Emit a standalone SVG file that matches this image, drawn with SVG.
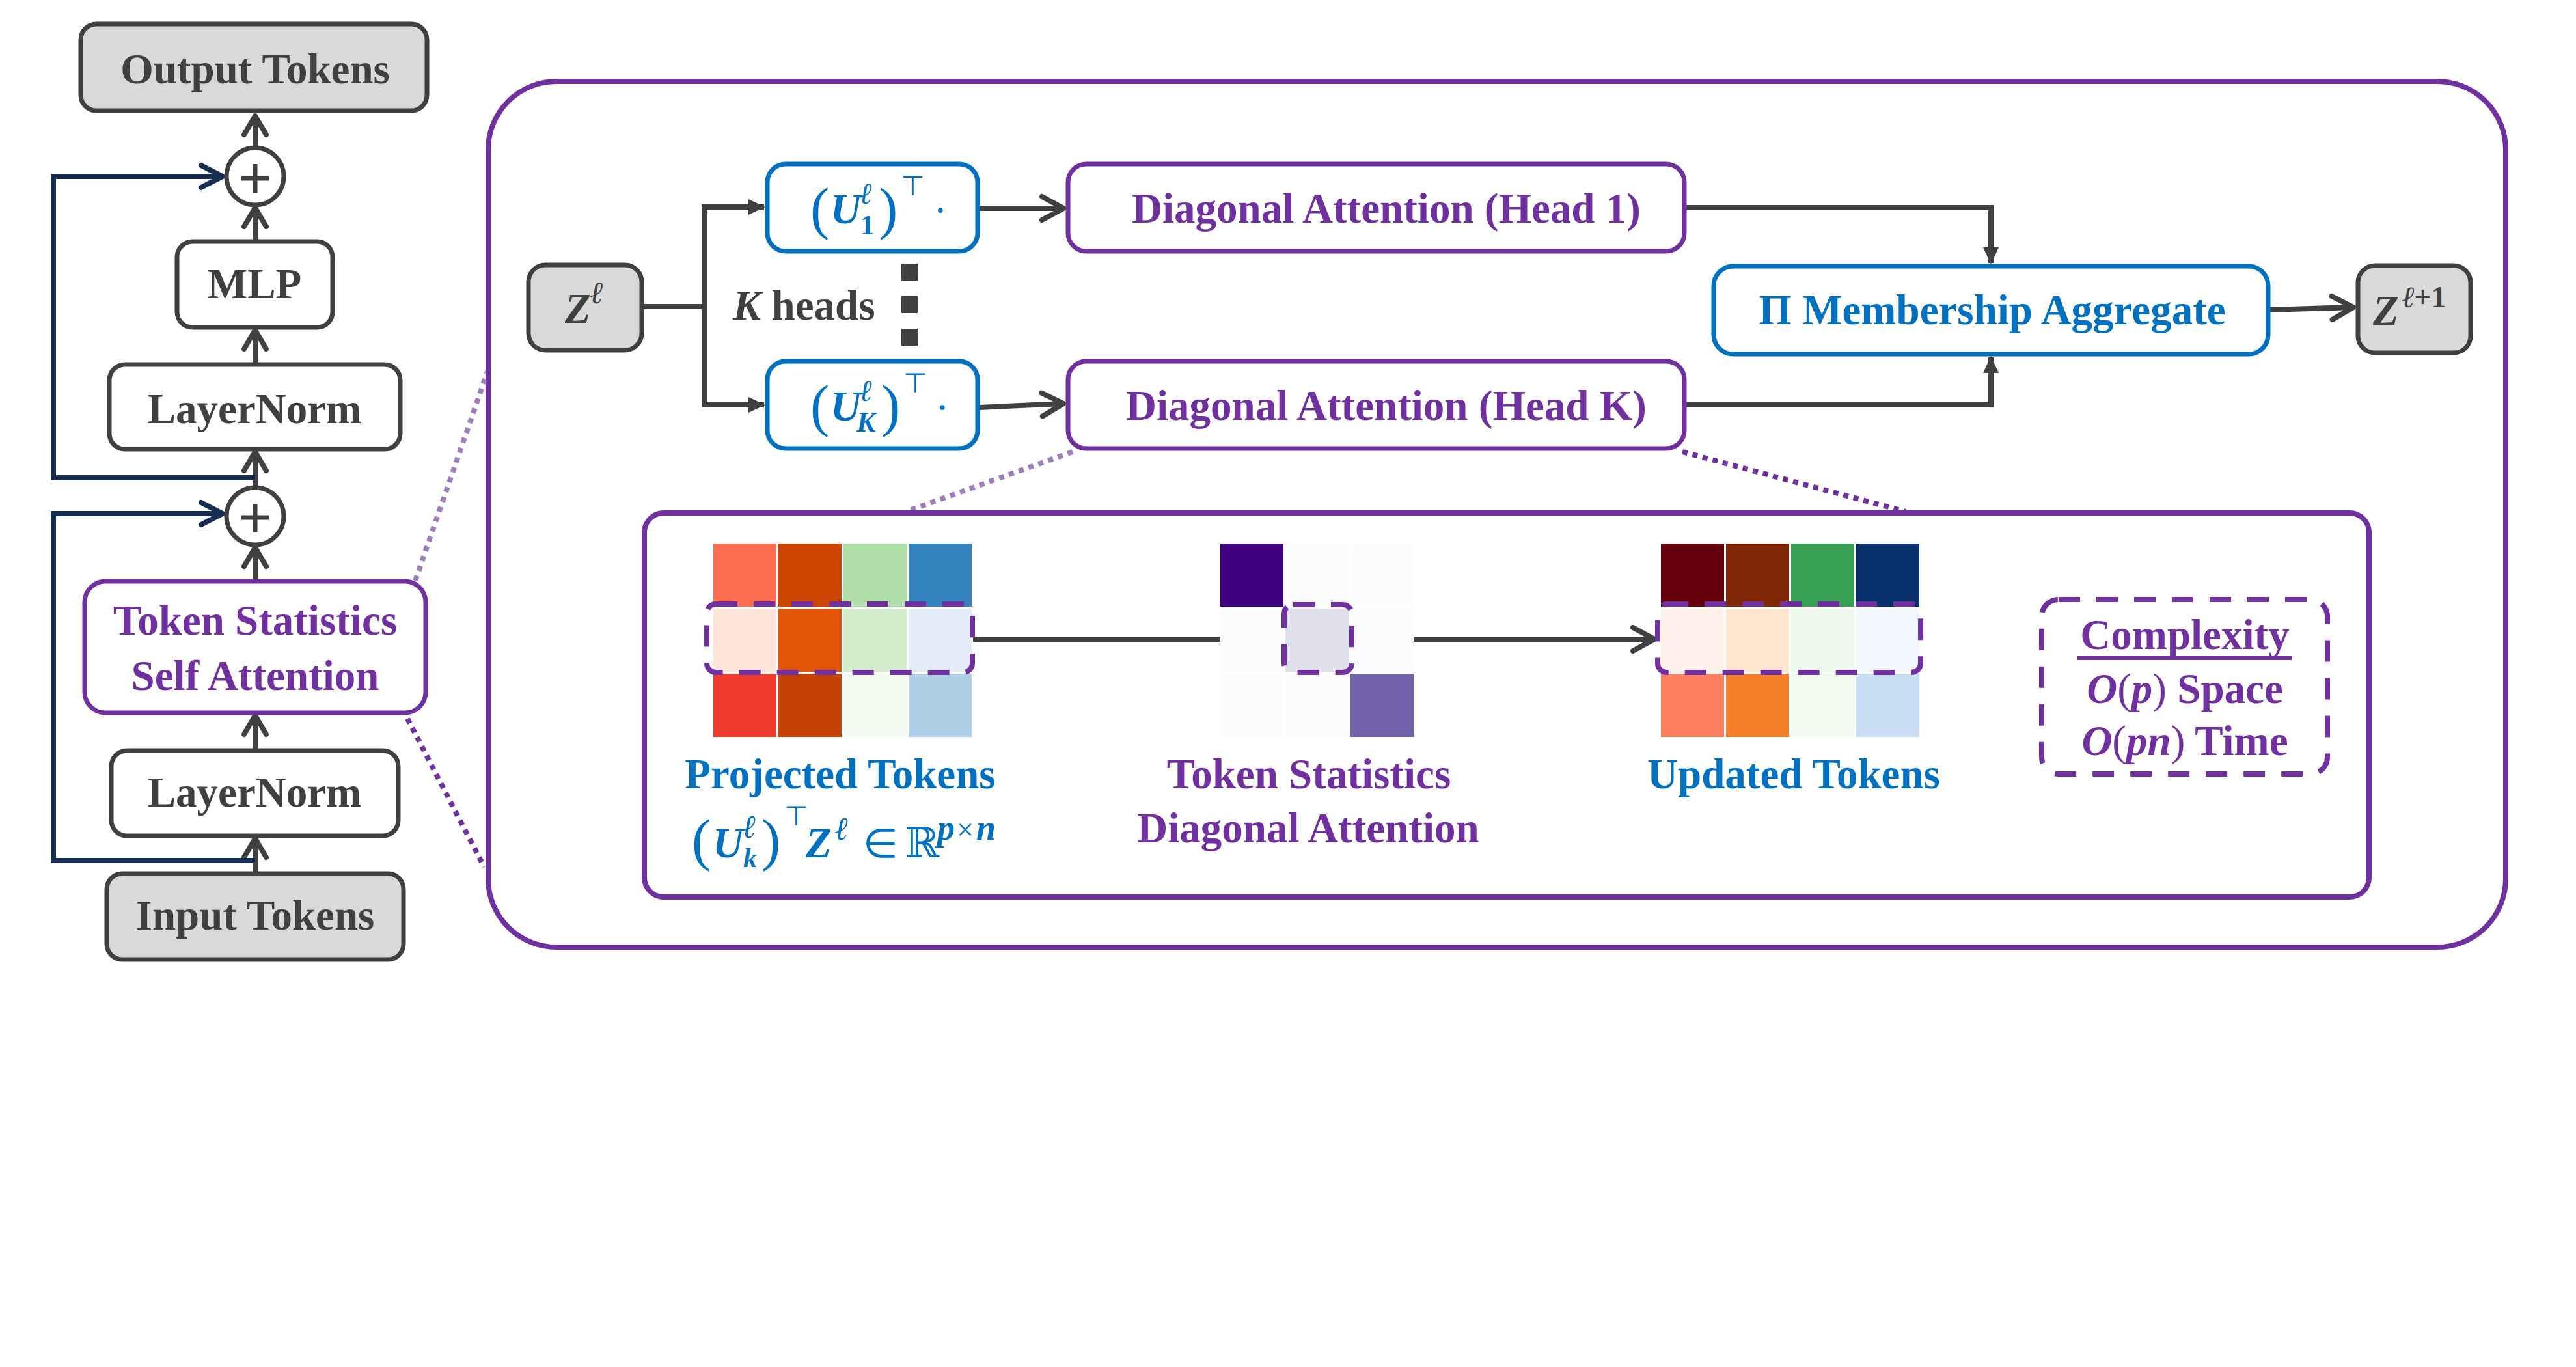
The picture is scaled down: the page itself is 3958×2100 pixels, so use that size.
<svg xmlns="http://www.w3.org/2000/svg" width="3958" height="2100" viewBox="0 0 3958 2100">
<style>
.box{stroke-width:7;fill:#ffffff}
.dk{stroke:#404040}
.gr{fill:#d9d9d9}
.pu{stroke:#7030a0}
.bl{stroke:#0070c0}
.big{fill:none;stroke:#7030a0;stroke-width:8}
.t{font-family:"Liberation Serif","Times New Roman",serif;font-weight:bold;font-size:65px}
.m{font-family:"Liberation Serif","DejaVu Serif",serif}
.tdk{fill:#404040}
.tpu{fill:#7030a0}
.tbl{fill:#0070c0}
.c{fill:none;stroke:#404040;stroke-width:8}
.nv{fill:none;stroke:#172c51;stroke-width:8}
.dotL{fill:none;stroke:#9d7dbb;stroke-width:8;stroke-dasharray:8 8}
.dotD{fill:none;stroke:#7030a0;stroke-width:8;stroke-dasharray:8 8}
.dash{fill:none;stroke:#7030a0;stroke-width:8;stroke-dasharray:33 25}
.plus{stroke:#404040;stroke-width:7}
</style>
<defs>
<marker id="chev" markerUnits="userSpaceOnUse" viewBox="-40 -25 45 50" markerWidth="45" markerHeight="50" refX="0" refY="0" orient="auto" overflow="visible">
<path d="M-33,-18 L0,0 L-33,18" fill="none" stroke="#404040" stroke-width="8" stroke-linecap="round" stroke-linejoin="round"/>
</marker>
<marker id="chevS" markerUnits="userSpaceOnUse" viewBox="-40 -25 45 50" markerWidth="45" markerHeight="50" refX="0" refY="0" orient="auto" overflow="visible">
<path d="M-29,-17 L0,0 L-29,17" fill="none" stroke="#404040" stroke-width="8" stroke-linecap="round" stroke-linejoin="round"/>
</marker>
<marker id="chevN" markerUnits="userSpaceOnUse" viewBox="-40 -25 45 50" markerWidth="45" markerHeight="50" refX="0" refY="0" orient="auto" overflow="visible">
<path d="M-33,-17 L0,0 L-33,17" fill="none" stroke="#172c51" stroke-width="8" stroke-linecap="round" stroke-linejoin="round"/>
</marker>
<marker id="tri" markerUnits="userSpaceOnUse" viewBox="-30 -15 32 30" markerWidth="32" markerHeight="30" refX="0" refY="0" orient="auto" overflow="visible">
<path d="M-24,-12 L2,0 L-24,12 Z" fill="#404040"/>
</marker>
</defs>

<g id="connectors">
<line class="c" x1="392" y1="224" x2="392" y2="178" marker-end="url(#chevS)"/>
<line class="c" x1="392" y1="368" x2="392" y2="319" marker-end="url(#chevS)"/>
<line class="c" x1="392" y1="557" x2="392" y2="507" marker-end="url(#chevS)"/>
<line class="c" x1="392" y1="746" x2="392" y2="694" marker-end="url(#chevS)"/>
<line class="c" x1="392" y1="890" x2="392" y2="841" marker-end="url(#chevS)"/>
<line class="c" x1="392" y1="1150" x2="392" y2="1099" marker-end="url(#chevS)"/>
<line class="c" x1="392" y1="1339" x2="392" y2="1288" marker-end="url(#chevS)"/>
<polyline class="nv" points="392,734 82,734 82,271 342,271" marker-end="url(#chevN)"/>
<polyline class="nv" points="392,1322 82,1322 82,789 342,789" marker-end="url(#chevN)"/>
<line class="dotL" x1="638" y1="892" x2="750" y2="568"/>
<line class="dotD" x1="626" y1="1104" x2="744" y2="1332"/>
<line class="dotL" x1="1648" y1="694" x2="1392" y2="786"/>
<line class="dotD" x1="2585" y1="694" x2="2928" y2="786"/>
<polyline class="c" points="989,471 1082,471"/>
<polyline class="c" points="1082,318 1082,622"/>
<polyline class="c" points="1078,318 1174,318" marker-end="url(#tri)"/>
<polyline class="c" points="1078,622 1174,622" marker-end="url(#tri)"/>
<line class="c" x1="1505" y1="320" x2="1634" y2="320" marker-end="url(#chev)"/>
<line class="c" x1="1505" y1="626" x2="1634" y2="620" marker-end="url(#chev)"/>
<polyline class="c" points="2591,319 3059,319 3059,404" marker-end="url(#tri)"/>
<polyline class="c" points="2591,622 3059,622 3059,549" marker-end="url(#tri)"/>
<line class="c" x1="3488" y1="476" x2="3616" y2="472" marker-end="url(#chev)"/>
<line class="c" x1="1495" y1="982" x2="1968" y2="982" marker-end="url(#chev)"/>
<line class="c" x1="2081" y1="982" x2="2542" y2="982" marker-end="url(#chev)"/>
</g>

<g id="output-tokens">
<rect class="box dk gr" x="124" y="37" width="532" height="133" rx="24"/>
<text class="t tdk" x="392" y="128" text-anchor="middle">Output Tokens</text>
</g>
<g id="add-top">
<circle cx="392" cy="271" r="44" fill="#ffffff" stroke="#404040" stroke-width="7"/>
<line class="plus" x1="371" y1="274" x2="413" y2="274"/>
<line class="plus" x1="392" y1="252" x2="392" y2="296"/>
</g>
<g id="mlp">
<rect class="box dk" x="272" y="371" width="239" height="132" rx="24"/>
<text class="t tdk" x="391" y="458" text-anchor="middle">MLP</text>
</g>
<g id="layernorm-top">
<rect class="box dk" x="168" y="560" width="447" height="130" rx="24"/>
<text class="t tdk" x="391" y="650" text-anchor="middle">LayerNorm</text>
</g>
<g id="add-bottom">
<circle cx="392" cy="793" r="44" fill="#ffffff" stroke="#404040" stroke-width="7"/>
<line class="plus" x1="371" y1="795" x2="413" y2="795"/>
<line class="plus" x1="392" y1="774" x2="392" y2="818"/>
</g>
<g id="token-statistics-self-attention">
<rect class="box pu" x="130" y="893" width="524" height="202" rx="32"/>
<text class="t tpu" x="392" y="975" text-anchor="middle">Token Statistics</text>
<text class="t tpu" x="392" y="1060" text-anchor="middle">Self Attention</text>
</g>
<g id="layernorm-bottom">
<rect class="box dk" x="171" y="1153" width="441" height="131" rx="24"/>
<text class="t tdk" x="391" y="1239" text-anchor="middle">LayerNorm</text>
</g>
<g id="input-tokens">
<rect class="box dk gr" x="164" y="1342" width="456" height="132" rx="24"/>
<text class="t tdk" x="392" y="1428" text-anchor="middle">Input Tokens</text>
</g>

<g id="tssa-detail">
<rect class="big" x="750" y="125" width="3100" height="1330" rx="105"/>
</g>

<g id="z-in">
<rect class="box dk gr" x="812" y="407" width="174" height="131" rx="26"/>
<text class="t tdk"><tspan x="868" y="496" font-style="italic">Z</tspan><tspan x="906" y="466" font-size="48" font-style="italic" font-weight="normal">ℓ</tspan></text>
</g>
<g id="proj-head-1">
<rect class="box bl" x="1179" y="252" width="323" height="134" rx="28"/>
<text class="t tbl m"><tspan x="1245" y="350" font-size="88" font-weight="normal">(</tspan><tspan x="1276" y="343" font-style="italic">U</tspan><tspan x="1320" y="313" font-size="46" font-style="italic" font-weight="normal">ℓ</tspan><tspan x="1322" y="360" font-size="42">1</tspan><tspan x="1350" y="350" font-size="88" font-weight="normal">)</tspan><tspan x="1384" y="300" font-size="42" font-weight="normal" font-family="DejaVu Sans, sans-serif">⊤</tspan><tspan x="1434" y="345" font-weight="normal">·</tspan></text>
</g>
<g id="k-heads">
<text class="t tdk" x="1126" y="491"><tspan font-style="italic">K</tspan> heads</text>
<rect x="1385" y="405" width="25" height="26" fill="#404040"/>
<rect x="1385" y="455" width="25" height="26" fill="#404040"/>
<rect x="1385" y="505" width="25" height="26" fill="#404040"/>
</g>
<g id="proj-head-k">
<rect class="box bl" x="1179" y="555" width="323" height="134" rx="28"/>
<text class="t tbl m"><tspan x="1245" y="653" font-size="88" font-weight="normal">(</tspan><tspan x="1276" y="646" font-style="italic">U</tspan><tspan x="1320" y="616" font-size="46" font-style="italic" font-weight="normal">ℓ</tspan><tspan x="1316" y="663" font-size="44" font-style="italic">K</tspan><tspan x="1354" y="653" font-size="88" font-weight="normal">)</tspan><tspan x="1388" y="603" font-size="42" font-weight="normal" font-family="DejaVu Sans, sans-serif">⊤</tspan><tspan x="1437" y="648" font-weight="normal">·</tspan></text>
</g>
<g id="diag-attn-head-1">
<rect class="box pu" x="1641" y="252" width="947" height="134" rx="28"/>
<text class="t tpu" x="2130" y="342" text-anchor="middle">Diagonal Attention (Head 1)</text>
</g>
<g id="diag-attn-head-k">
<rect class="box pu" x="1641" y="555" width="947" height="134" rx="28"/>
<text class="t tpu" x="2130" y="645" text-anchor="middle">Diagonal Attention (Head K)</text>
</g>
<g id="membership-aggregate">
<rect class="box bl" x="2633" y="409" width="852" height="135" rx="30"/>
<text class="t tbl" x="3061" y="498" text-anchor="middle">Π Membership Aggregate</text>
</g>
<g id="z-out">
<rect class="box dk gr" x="3623" y="408" width="173" height="134" rx="26"/>
<text class="t tdk"><tspan x="3646" y="499" font-style="italic">Z</tspan><tspan x="3690" y="472" font-size="46"><tspan font-style="italic" font-weight="normal">ℓ</tspan>+1</tspan></text>
</g>

<g id="inner-detail">
<rect class="big" x="990" y="788" width="2650" height="590" rx="30"/>
</g>

<g id="projected-tokens">
<rect x="1096" y="835" width="97" height="97" fill="#fc6e4f"/>
<rect x="1196" y="835" width="97" height="97" fill="#cc4400"/>
<rect x="1296" y="835" width="97" height="97" fill="#b0dea8"/>
<rect x="1396" y="835" width="97" height="97" fill="#3383bf"/>
<rect x="1096" y="935" width="97" height="97" fill="#fde5d9"/>
<rect x="1196" y="935" width="97" height="97" fill="#e05508"/>
<rect x="1296" y="935" width="97" height="97" fill="#d3eecd"/>
<rect x="1396" y="935" width="97" height="97" fill="#e3edf8"/>
<rect x="1096" y="1035" width="97" height="97" fill="#ef3c2d"/>
<rect x="1196" y="1035" width="97" height="97" fill="#c44103"/>
<rect x="1296" y="1035" width="97" height="97" fill="#f3faf0"/>
<rect x="1396" y="1035" width="97" height="97" fill="#aecfe6"/>
<rect class="dash" x="1086" y="928" width="408" height="105" rx="14"/>
<text class="t tbl" x="1291" y="1211" text-anchor="middle">Projected Tokens</text>
<text class="t tbl m"><tspan x="1063" y="1320" font-size="88" font-weight="normal">(</tspan><tspan x="1095" y="1317" font-style="italic">U</tspan><tspan x="1140" y="1287" font-size="50" font-style="italic" font-weight="normal">ℓ</tspan><tspan x="1142" y="1332" font-size="42" font-style="italic">k</tspan><tspan x="1170" y="1320" font-size="88" font-weight="normal">)</tspan><tspan x="1205" y="1268" font-size="42" font-weight="normal" font-family="DejaVu Sans, sans-serif">⊤</tspan><tspan x="1238" y="1317" font-style="italic">Z</tspan><tspan x="1282" y="1290" font-size="50" font-style="italic" font-weight="normal">ℓ</tspan><tspan x="1326" y="1317" font-size="62" font-weight="normal" font-family="DejaVu Sans, sans-serif">∈</tspan><tspan x="1390" y="1317" font-weight="normal" font-family="DejaVu Serif, serif" font-size="64">ℝ</tspan><tspan x="1440" y="1290" font-size="54" font-style="italic">p</tspan><tspan x="1470" y="1290" font-size="46" font-weight="normal">×</tspan><tspan x="1500" y="1290" font-size="54" font-style="italic">n</tspan></text>
</g>

<g id="token-statistics-diagonal-attention">
<rect x="1875" y="835" width="97" height="97" fill="#3f007d"/>
<rect x="1975" y="835" width="97" height="97" fill="#fcfbfd"/>
<rect x="2075" y="835" width="97" height="97" fill="#fcfbfd"/>
<rect x="1875" y="935" width="97" height="97" fill="#fcfbfd"/>
<rect x="1975" y="935" width="97" height="97" fill="#e1e1ee"/>
<rect x="2075" y="935" width="97" height="97" fill="#fcfbfd"/>
<rect x="1875" y="1035" width="97" height="97" fill="#fcfbfd"/>
<rect x="1975" y="1035" width="97" height="97" fill="#fcfbfd"/>
<rect x="2075" y="1035" width="97" height="97" fill="#7262ab"/>
<rect class="dash" x="1973" y="929" width="104" height="104" rx="14"/>
<text class="t tpu" x="2011" y="1211" text-anchor="middle">Token Statistics</text>
<text class="t tpu" x="2010" y="1294" text-anchor="middle">Diagonal Attention</text>
</g>

<g id="updated-tokens">
<rect x="2552" y="835" width="97" height="97" fill="#67000d"/>
<rect x="2652" y="835" width="97" height="97" fill="#7f2704"/>
<rect x="2752" y="835" width="97" height="97" fill="#38a055"/>
<rect x="2852" y="835" width="97" height="97" fill="#08306b"/>
<rect x="2552" y="935" width="97" height="97" fill="#fff2ea"/>
<rect x="2652" y="935" width="97" height="97" fill="#fee5cd"/>
<rect x="2752" y="935" width="97" height="97" fill="#eff8ec"/>
<rect x="2852" y="935" width="97" height="97" fill="#f2f7fd"/>
<rect x="2552" y="1035" width="97" height="97" fill="#fc8060"/>
<rect x="2652" y="1035" width="97" height="97" fill="#f57f29"/>
<rect x="2752" y="1035" width="97" height="97" fill="#f3faf0"/>
<rect x="2852" y="1035" width="97" height="97" fill="#c9ddf0"/>
<rect class="dash" x="2547" y="928" width="404" height="105" rx="14"/>
<text class="t tbl" x="2756" y="1211" text-anchor="middle">Updated Tokens</text>
</g>

<g id="complexity">
<rect class="dash" x="3137" y="921" width="439" height="268" rx="26"/>
<text class="t tpu" x="3357" y="997" text-anchor="middle">Complexity</text>
<line x1="3192" y1="1011" x2="3521" y2="1011" stroke="#7030a0" stroke-width="6"/>
<text class="t tpu" x="3357" y="1080" text-anchor="middle"><tspan font-style="italic">O</tspan><tspan font-weight="normal">(</tspan><tspan font-style="italic">p</tspan><tspan font-weight="normal">)</tspan> Space</text>
<text class="t tpu" x="3357" y="1160" text-anchor="middle"><tspan font-style="italic">O</tspan><tspan font-weight="normal">(</tspan><tspan font-style="italic">pn</tspan><tspan font-weight="normal">)</tspan> Time</text>
</g>
</svg>
